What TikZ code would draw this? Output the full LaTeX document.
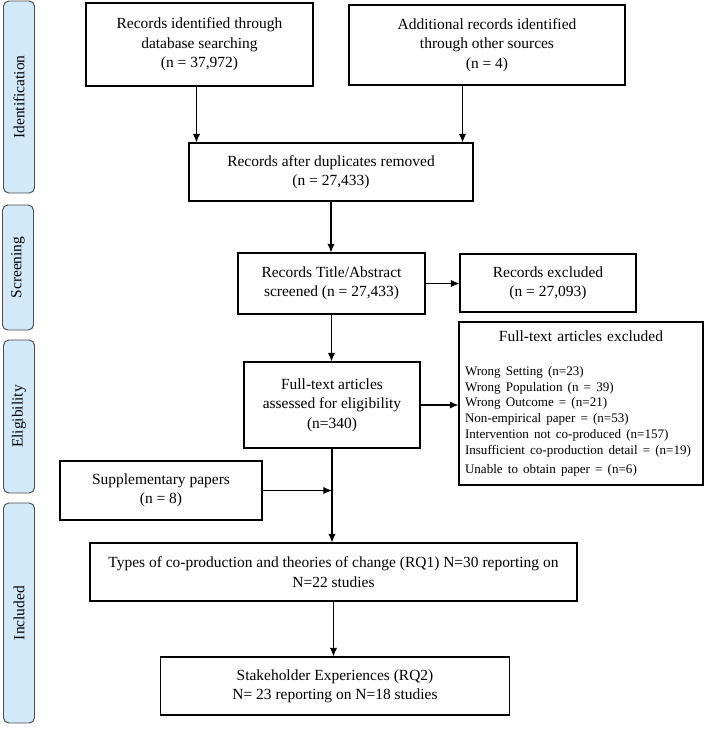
\documentclass[tikz,border=0pt]{standalone}
\usepackage{fontspec}
\setmainfont{Liberation Serif}
\usetikzlibrary{arrows.meta}
\definecolor{stagefill}{RGB}{210,233,250}
\newlength{\pxu}
\setlength{\pxu}{0.75pt}

\begin{document}
\begin{tikzpicture}[x=0.75pt,y=-0.75pt,
    box/.style={draw,line width=0.8pt,align=center,inner sep=2pt,font=\fontsize{11.6}{14.5}\selectfont},
    phase/.style={draw=black!70,line width=0.7pt,rounded corners=4pt,fill=stagefill,rotate=90,minimum height=31\pxu,font=\fontsize{11.6}{14}\selectfont},
    arr/.style={line width=0.8pt,-{Latex[length=6.5pt,width=5.5pt]}}]
    \useasboundingbox (0,0) rectangle (709,729);
    \node[phase,minimum width=192\pxu] (ident) at (19,97) {Identification};
    \node[phase,minimum width=125\pxu] (screen) at (18,267.5) {Screening};
    \node[phase,minimum width=153\pxu] (elig) at (19,416.5) {Eligibility};
    \node[phase,minimum width=220\pxu] (incl) at (19,613) {Included};
    \node[box,minimum width=227\pxu,minimum height=83\pxu] (db) at (199.5,44.5) {Records identified through\\database searching\\(n = 37,972)};
    \node[box,minimum width=276\pxu,minimum height=80\pxu] (other) at (487,45) {Additional records identified\\through other sources\\(n = 4)};
    \node[box,minimum width=284\pxu,minimum height=58\pxu] (dup) at (331,172) {Records after duplicates removed\\(n = 27,433)};
    \node[box,minimum width=187\pxu,minimum height=61\pxu] (scr) at (331.5,283.5) {Records Title/Abstract\\screened (n = 27,433)};
    \node[box,minimum width=176\pxu,minimum height=58\pxu] (rexcl) at (548,283) {Records excluded\\(n = 27,093)};
    \node[box,minimum width=176\pxu,minimum height=86\pxu] (ft) at (332,405) {Full-text articles\\assessed for eligibility\\(n=340)};
    \node[box,align=left,inner xsep=6\pxu,text width=232\pxu,minimum height=163\pxu] (ftexcl) at (581,403.5) {\makebox[\linewidth][c]{Full-text articles excluded}\\[13.7pt]
        \fontsize{9.8}{11.8}\selectfont
        Wrong Setting (n=23)\\
        Wrong Population (n = 39)\\
        Wrong Outcome = (n=21)\\
        Non-empirical paper = (n=53)\\
        Intervention not co-produced (n=157)\\
        Insufficient co-production detail = (n=19)\\
        Unable to obtain paper = (n=6)};
    \node[box,minimum width=202\pxu,minimum height=59\pxu] (supp) at (161,490.5) {Supplementary papers\\(n = 8)};
    \node[box,minimum width=487\pxu,minimum height=58\pxu] (types) at (333.5,572) {Types of co-production and theories of change (RQ1) N=30 reporting on\\N=22 studies};
    \node[box,minimum width=349\pxu,minimum height=58\pxu] (stake) at (335,686) {Stakeholder Experiences (RQ2)\\N= 23 reporting on N=18 studies};
    \draw[arr] ([xshift=8\pxu]dup.north west |- db.south) -- ([xshift=8\pxu]dup.north west);
    \draw[arr] ([xshift=-11\pxu]dup.north east |- other.south) -- ([xshift=-11\pxu]dup.north east);
    \draw[arr] (dup.south) -- (dup.south |- scr.north);
    \draw[arr] (scr.east) -- (scr.east -| rexcl.west);
    \draw[arr] (scr.south) -- (scr.south |- ft.north);
    \draw[arr] (ft.east) -- (ft.east -| ftexcl.west);
    \draw[arr] (ft.south) -- (ft.south |- types.north);
    \draw[arr] (supp.east) -- (supp.east -| ft.south);
    \draw[arr] (types.south) -- (types.south |- stake.north);
\end{tikzpicture}
\end{document}
